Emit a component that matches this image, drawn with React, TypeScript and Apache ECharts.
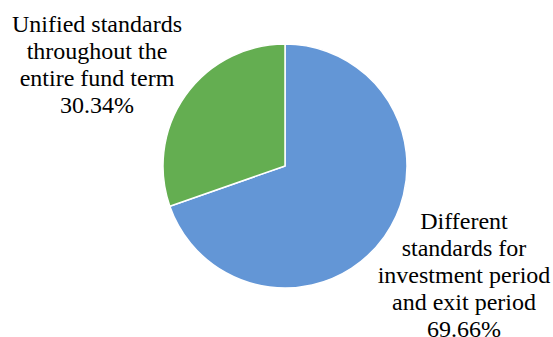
import React, { useEffect, useRef } from "react";
import * as echarts from "echarts";

const categories = [
  "Different\nstandards for\ninvestment period\nand exit period",
  "Unified standards\nthroughout the\nentire fund term",
];
const values = [69.66, 30.34];
const colors = ["#6396D6", "#64AE51"];
const labelAnchors = [
  [464, 275],
  [97, 64],
];
const LINE_H = 27;

export default function App() {
  const ref = useRef<HTMLDivElement>(null);
  useEffect(() => {
    if (!ref.current) return;
    const chart = echarts.init(ref.current, undefined, { renderer: "svg" });
    const texts: any[] = [];
    categories.forEach((name, i) => {
      const lines = `${name}\n${values[i].toFixed(2)}%`.split("\n");
      const top = labelAnchors[i][1] - ((lines.length - 1) * LINE_H) / 2;
      lines.forEach((ln, j) => {
        texts.push({
          type: "text",
          x: labelAnchors[i][0],
          y: top + j * LINE_H,
          silent: true,
          style: {
            text: ln,
            fontFamily: "Liberation Serif",
            fontSize: 24,
            fill: "#000000",
            align: "center",
            verticalAlign: "middle",
          },
        });
      });
    });
    chart.setOption({
      animation: false,
      backgroundColor: "#ffffff",
      graphic: texts,
      series: [
        {
          type: "pie",
          center: [285, 166],
          radius: 122,
          startAngle: 90,
          clockwise: true,
          data: categories.map((name, i) => ({
            name,
            value: values[i],
            itemStyle: { color: colors[i] },
          })),
          itemStyle: { borderColor: "#ffffff", borderWidth: 1.5 },
          label: { show: false },
          labelLine: { show: false },
          emphasis: { disabled: true },
        },
      ],
    });
    return () => chart.dispose();
  }, []);
  return (
    <div style={{ position: "fixed", left: 0, top: 0, width: 553, height: 337 }}>
      <div ref={ref} style={{ width: 553, height: 337 }} />
    </div>
  );
}
